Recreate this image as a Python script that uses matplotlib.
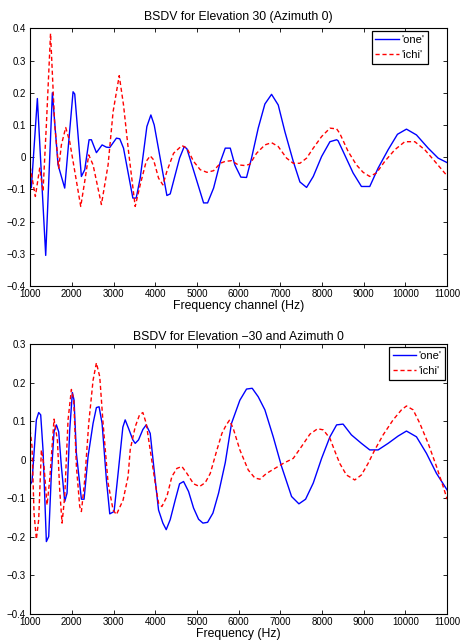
import matplotlib
matplotlib.use('Agg')
import matplotlib.pyplot as plt
from matplotlib.ticker import FuncFormatter

plt.rcParams['font.family'] = ['Liberation Sans', 'DejaVu Sans']

# 위쪽 그래프: Elevation 30
top_one_hz = [1000, 1030, 1174, 1374, 1534, 1670, 1830, 2030, 2070, 2230, 2310, 2414, 2470,
              2590, 2726, 2830, 2910, 3070, 3150, 3240, 3464, 3544, 3640, 3800, 3896, 3976,
              4280, 4360, 4584, 4696, 4760, 4880, 5160, 5256, 5400, 5560, 5680, 5800, 5910,
              6054, 6190, 6310, 6470, 6630, 6790, 6950, 7110, 7310, 7470, 7630, 7790, 7990,
              8190, 8350, 8385, 8505, 8745, 8945, 9145, 9345, 9585, 9809, 10025, 10265,
              10545, 10785, 11000]
top_one = [-0.075, -0.095, 0.182, -0.305, 0.200, -0.024, -0.096, 0.203, 0.196, -0.060, -0.039,
           0.054, 0.054, 0.014, 0.038, 0.031, 0.030, 0.059, 0.057, 0.028, -0.127, -0.127,
           -0.065, 0.095, 0.131, 0.100, -0.119, -0.114, -0.003, 0.033, 0.026, -0.024, -0.142,
           -0.142, -0.096, -0.015, 0.028, 0.028, -0.024, -0.062, -0.063, -0.003, 0.090, 0.165,
           0.195, 0.162, 0.079, -0.013, -0.077, -0.094, -0.060, 0.002, 0.048, 0.054, 0.051,
           0.018, -0.049, -0.091, -0.091, -0.034, 0.023, 0.071, 0.087, 0.069, 0.028, -0.003,
           -0.017]

top_ichi_hz = [1000, 1126, 1230, 1310, 1390, 1490, 1590, 1686, 1750, 1854, 1950, 2214, 2310,
               2406, 2510, 2710, 2870, 2990, 3137, 3240, 3360, 3520, 3640, 3784, 3880, 3960,
               4080, 4184, 4280, 4440, 4640, 4760, 4920, 5080, 5240, 5400, 5560, 5680, 5830,
               5990, 6150, 6270, 6430, 6630, 6790, 6950, 7150, 7310, 7470, 7630, 7790, 7990,
               8190, 8350, 8425, 8625, 8825, 8985, 9145, 9305, 9505, 9745, 9985, 10225, 10465,
               10705, 11000]
top_ichi = [-0.029, -0.122, -0.034, -0.106, 0.100, 0.384, 0.100, -0.034, 0.038, 0.092, 0.048,
            -0.153, -0.075, 0.007, -0.024, -0.147, -0.024, 0.141, 0.253, 0.162, 0.018, -0.153,
            -0.086, -0.013, 0.004, -0.008, -0.065, -0.086, -0.044, 0.012, 0.036, 0.028, -0.013,
            -0.039, -0.047, -0.042, -0.019, -0.013, -0.011, -0.024, -0.026, -0.022, 0.012,
            0.038, 0.045, 0.033, -0.003, -0.019, -0.019, -0.003, 0.028, 0.064, 0.090, 0.088,
            0.074, 0.018, -0.024, -0.047, -0.060, -0.049, -0.013, 0.023, 0.048, 0.048, 0.023,
            -0.013, -0.058]

# 아래쪽 그래프: Elevation -30
bot_one_hz = [1000, 1046, 1150, 1206, 1254, 1310, 1390, 1446, 1510, 1574, 1630, 1686, 1750,
              1830, 1886, 1950, 2014, 2054, 2110, 2230, 2294, 2390, 2510, 2590, 2654, 2726,
              2830, 2910, 3014, 3110, 3224, 3280, 3360, 3464, 3520, 3600, 3704, 3784, 3880,
              4000, 4080, 4184, 4264, 4360, 4480, 4584, 4680, 4800, 4920, 5040, 5144, 5256,
              5384, 5520, 5680, 5830, 6030, 6190, 6326, 6470, 6630, 6830, 7030, 7270, 7446,
              7606, 7790, 7990, 8190, 8350, 8505, 8705, 8945, 9145, 9345, 9585, 9825, 10025,
              10265, 10505, 10745, 11000]
bot_one = [-0.065, -0.056, 0.104, 0.123, 0.117, 0.026, -0.212, -0.199, -0.035, 0.073, 0.091,
           0.073, -0.017, -0.108, -0.086, 0.078, 0.175, 0.155, 0.017, -0.102, -0.102, 0.009,
           0.095, 0.136, 0.138, 0.095, -0.052, -0.140, -0.134, -0.035, 0.085, 0.104, 0.082,
           0.052, 0.043, 0.052, 0.079, 0.091, 0.069, -0.052, -0.130, -0.164, -0.181, -0.155,
           -0.104, -0.062, -0.056, -0.082, -0.125, -0.154, -0.164, -0.162, -0.138, -0.086,
           -0.007, 0.095, 0.155, 0.184, 0.186, 0.164, 0.130, 0.060, -0.017, -0.095, -0.114,
           -0.102, -0.060, 0.004, 0.060, 0.091, 0.093, 0.065, 0.043, 0.026, 0.026, 0.043,
           0.062, 0.075, 0.060, 0.017, -0.035, -0.078]

bot_ichi_hz = [1000, 1046, 1094, 1150, 1206, 1270, 1334, 1406, 1470, 1574, 1654, 1710, 1766,
               1830, 1910, 1990, 2046, 2110, 2190, 2230, 2310, 2406, 2510, 2590, 2670, 2750,
               2870, 2990, 3070, 3230, 3350, 3400, 3520, 3624, 3704, 3784, 3880, 4000, 4080,
               4160, 4280, 4400, 4520, 4640, 4760, 4920, 5064, 5200, 5320, 5480, 5600, 5704,
               5780, 5870, 6030, 6230, 6390, 6510, 6670, 6870, 7070, 7310, 7510, 7710, 7894,
               8030, 8190, 8310, 8425, 8585, 8785, 8945, 9105, 9265, 9465, 9705, 9905, 10025,
               10185, 10345, 10545, 10745, 10905, 11000]
bot_ichi = [0.078, 0.035, -0.138, -0.206, -0.155, 0.026, -0.017, -0.117, -0.052, 0.106,
            0.052, -0.078, -0.164, -0.095, 0.104, 0.183, 0.155, -0.017, -0.121, -0.134,
            -0.052, 0.095, 0.207, 0.252, 0.216, 0.095, -0.060, -0.130, -0.142, -0.104,
            -0.043, 0.026, 0.086, 0.117, 0.123, 0.095, 0.026, -0.060, -0.112, -0.121, -0.095,
            -0.043, -0.022, -0.017, -0.035, -0.062, -0.069, -0.059, -0.035, 0.026, 0.069,
            0.091, 0.103, 0.082, 0.026, -0.026, -0.047, -0.050, -0.035, -0.022, -0.009, 0.004,
            0.035, 0.067, 0.081, 0.078, 0.056, 0.022, -0.009, -0.039, -0.052, -0.039, -0.009,
            0.026, 0.065, 0.104, 0.130, 0.140, 0.130, 0.095, 0.043, -0.017, -0.069, -0.102]

x_ticks = list(range(1000, 11001, 1000))


def tick_fmt(v, pos):
    s = '%g' % round(v, 3)
    return s.replace('-', '\u2212')


fig = plt.figure(figsize=(4.61, 6.42), dpi=100)
ax1 = fig.add_axes([0.0653, 0.5545, 0.9046, 0.4014])
ax2 = fig.add_axes([0.0653, 0.0436, 0.9046, 0.4200])

# (축, 데이터, y 상한, 제목, x 라벨, 제목 간격, 범례 위치)
panels = [
    (ax1, top_one_hz, top_one, top_ichi_hz, top_ichi, 0.4,
     'BSDV for Elevation 30 (Azimuth 0)', 'Frequency channel (Hz)', 6, (0.954, 0.99)),
    (ax2, bot_one_hz, bot_one, bot_ichi_hz, bot_ichi, 0.3,
     'BSDV for Elevation \u221230 and Azimuth 0', 'Frequency (Hz)', 3, (0.995, 0.99)),
]

for ax, x1, y1, x2, y2, ytop, title, xlabel, tpad, lpos in panels:
    ax.plot(x1, y1, color='#0000ff', linewidth=1.0, label="'one'")
    ax.plot(x2, y2, color='#ff0000', linewidth=1.0, dashes=(3, 2), label="'ichi'")
    ax.set_xlim(1000, 11000)
    ax.set_ylim(-0.4, ytop)
    ax.set_xticks(x_ticks)
    yt = [round(-0.4 + 0.1 * i, 1) for i in range(int(round((ytop + 0.4) / 0.1)) + 1)]
    ax.set_yticks(yt)
    ax.yaxis.set_major_formatter(FuncFormatter(tick_fmt))
    ax.tick_params(direction='in', top=True, right=True, length=3, width=0.6,
                   labelsize=7, pad=2)
    ax.tick_params(axis='y', pad=3)
    for sp in ax.spines.values():
        sp.set_linewidth(0.8)
    ax.set_title(title, fontsize=8.8, pad=tpad)
    ax.set_xlabel(xlabel, fontsize=8.8, labelpad=1)
    leg = ax.legend(loc='upper right', bbox_to_anchor=lpos, fontsize=8, fancybox=False,
                    framealpha=1, edgecolor='black', handlelength=2.1, borderpad=0.35,
                    labelspacing=0.45, handletextpad=0.2, borderaxespad=0)
    leg.get_frame().set_linewidth(0.9)

fig.savefig('out.png', dpi=100)
